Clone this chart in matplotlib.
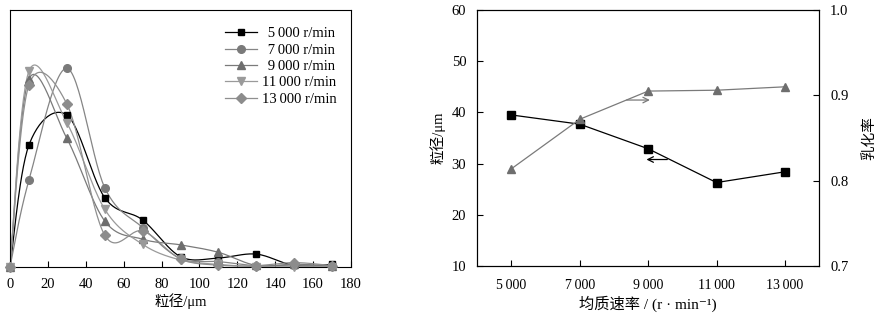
import numpy as np
import matplotlib
matplotlib.use("Agg")
import matplotlib.pyplot as plt

plt.rcParams['font.family'] = ['Liberation Serif', 'Noto Sans CJK SC', 'DejaVu Sans']

# left panel: particle size distribution (relative frequency, arbitrary units)
size_um = [0, 10, 30, 50, 70, 90, 110, 130, 150, 170]
freq_5000 = [0, 47.4, 59.1, 26.9, 18.2, 3.9, 3.4, 4.9, 0.5, 0.9]
freq_7000 = [0, 33.7, 77.3, 30.8, 15.2, 3.2, 2.0, 0.4, 0.6, 0.3]
freq_9000 = [0, 73.1, 50.0, 17.8, 10.7, 8.5, 5.6, 0.5, 1.0, 0.3]
freq_11000 = [0, 76.2, 56.1, 22.4, 8.7, 2.6, 0.9, 0.0, 0.0, 0.0]
freq_13000 = [0, 70.8, 63.4, 12.3, 13.9, 3.0, 0.6, 0.4, 1.6, 0.4]
series_labels = ['\u2009\u20095\u2009000 r/min', '\u2009\u20097\u2009000 r/min',
                 '\u2009\u20099\u2009000 r/min', '11\u2009000 r/min', '13\u2009000 r/min']

# right panel: homogenization speed
speed = [5000, 7000, 9000, 11000, 13000]
speed_labels = ['5\u2009000', '7\u2009000', '9\u2009000', '11\u2009000', '13\u2009000']
particle_size = [39.5, 37.7, 32.9, 26.3, 28.4]
emulsion_rate = [0.814, 0.872, 0.905, 0.906, 0.910]


def smooth(xs, ys, sx, sy, n=30):
    # Catmull-Rom curve through the points, computed in screen-like units
    px = np.asarray(xs, float) * sx
    py = np.asarray(ys, float) * sy
    P = np.column_stack([px, py])
    P = np.vstack([P[0], P, P[-1]])
    out = []
    for i in range(1, len(P) - 2):
        p0, p1, p2, p3 = P[i - 1], P[i], P[i + 1], P[i + 2]
        c1 = p1 + (p2 - p0) / 6
        c2 = p2 - (p3 - p1) / 6
        t = np.linspace(0, 1, n)[:, None]
        b = ((1 - t) ** 3) * p1 + 3 * ((1 - t) ** 2) * t * c1 + 3 * (1 - t) * t ** 2 * c2 + t ** 3 * p2
        out.append(b if i == 1 else b[1:])
    out = np.vstack(out)
    return out[:, 0] / sx, out[:, 1] / sy


fig = plt.figure(figsize=(8.89, 3.22), dpi=100)

ax1 = fig.add_axes([0.01125, 0.1718, 0.3836, 0.797])
series = [freq_5000, freq_7000, freq_9000, freq_11000, freq_13000]
markers = ['s', 'o', '^', 'v', 'D']
mcolors = ['black', '#7a7a7a', '#6e6e6e', '#9a9a9a', '#8c8c8c']
lcolors = ['black', '#858585', '#7a7a7a', '#9a9a9a', '#8f8f8f']
msizes = [5, 5.5, 5.5, 5.5, 5]
sx, sy = 341 / 180, 257 / 100
handles = []
for ys, m, mc, lc, ms, lab in zip(series, markers, mcolors, lcolors, msizes, series_labels):
    cx, cy = smooth(size_um, ys, sx, sy)
    ax1.plot(cx, cy, color=lc, lw=0.9, zorder=2)
    ax1.plot(size_um, ys, ls='none', marker=m, color=mc, ms=ms, zorder=3, clip_on=False)
    h, = ax1.plot([], [], color=lc, lw=0.9, marker=m, mfc=mc, mec=mc, ms=ms, label=lab)
    handles.append(h)
ax1.set_xlim(0, 180)
ax1.set_ylim(0, 100)
ax1.set_xticks(range(0, 181, 20))
ax1.set_yticks([])
ax1.tick_params(axis='x', direction='in', length=4, pad=8, labelsize=10.5)
ax1.set_xlabel('粒径/μm', fontsize=10.5, labelpad=2)
leg = ax1.legend(handles=handles, loc='upper right', frameon=False, fontsize=10.5,
                 handlelength=2.2, handletextpad=0.3, labelspacing=0.22,
                 bbox_to_anchor=(0.995, 0.985))

ax2 = fig.add_axes([0.5369, 0.1739, 0.3844, 0.795])
ax2.plot(speed, particle_size, color='black', lw=0.9, marker='s', ms=5.5, zorder=3)
ax2.set_xlim(4000, 14000)
ax2.set_ylim(10, 60)
ax2.set_xticks(speed)
ax2.set_xticklabels(speed_labels)
ax2.set_yticks(range(10, 61, 10))
ax2.tick_params(axis='x', direction='in', length=4, pad=9, labelsize=10)
ax2.tick_params(axis='y', direction='in', length=4, pad=8, labelsize=10.5)
ax2.set_ylabel('粒径/μm', fontsize=10.5, labelpad=4)
ax2.set_xlabel('均质速率 / (r · min\u207b\u00b9)', fontsize=11, labelpad=3)

ax3 = ax2.twinx()
ax3.plot(speed, emulsion_rate, color='#7a7a7a', lw=0.9, marker='^', ms=6, mfc='#6e6e6e', mec='#6e6e6e')
ax3.set_ylim(0.7, 1.0)
ax3.set_yticks([0.7, 0.8, 0.9, 1.0])
ax3.set_yticklabels(['0.7', '0.8', '0.9', '1.0'])
ax3.tick_params(axis='y', direction='in', length=4, pad=8, labelsize=10.5)
ax3.set_ylabel('乳化率', fontsize=10.5, rotation=90, labelpad=10)

# arrows indicating which axis each curve belongs to
ax3.annotate('', xy=(9050, 0.8945), xytext=(8370, 0.8945),
             arrowprops=dict(arrowstyle='->', color='#7a7a7a', lw=0.9, shrinkA=0, shrinkB=0))
ax2.annotate('', xy=(8950, 30.8), xytext=(9560, 30.8),
             arrowprops=dict(arrowstyle='->', color='black', lw=0.9, shrinkA=0, shrinkB=0))

fig.savefig('out.png', dpi=100)
